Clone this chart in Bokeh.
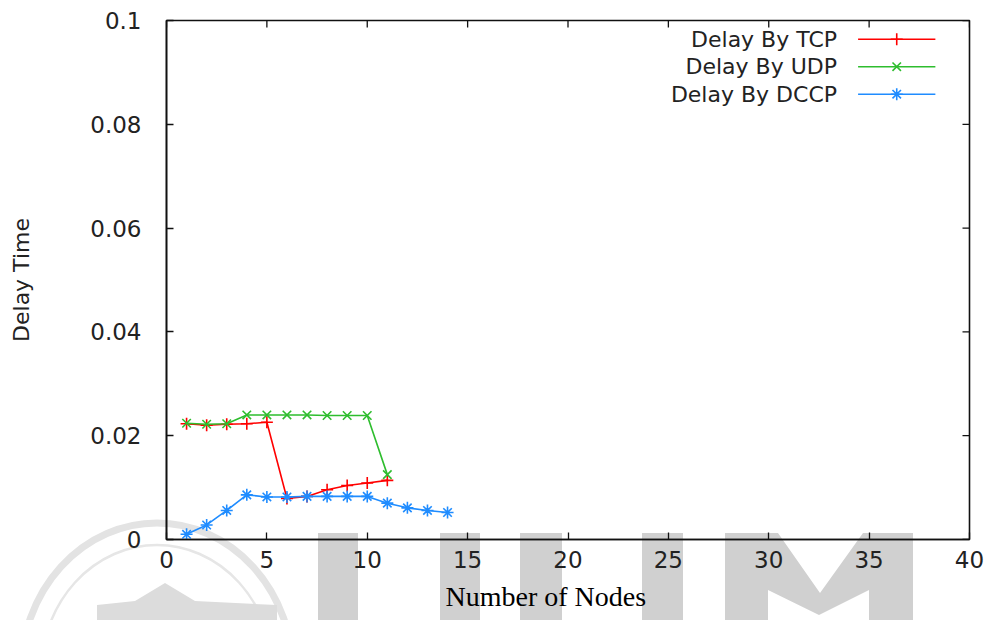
from bokeh.plotting import figure
from bokeh.layouts import column
from bokeh.models import (Range1d, FixedTicker, PrintfTickFormatter, Title,
                          ColumnDataSource, Div)
from bokeh.core.properties import value
from bokeh.embed import file_html
from bokeh.resources import INLINE

# ---- measured delays per number of nodes ----
tcp_nodes = [1, 2, 3, 4, 5, 6, 7, 8, 9, 10, 11]
tcp_delay = [0.0223, 0.0220, 0.0222, 0.0223, 0.0226, 0.0079, 0.0083, 0.0096,
             0.0104, 0.0109, 0.0114]

udp_nodes = [1, 2, 3, 4, 5, 6, 7, 8, 9, 10, 11]
udp_delay = [0.0224, 0.0222, 0.0223, 0.0240, 0.0240, 0.0240, 0.0240, 0.0239,
             0.0239, 0.0239, 0.0125]

dccp_nodes = [1, 2, 3, 4, 5, 6, 7, 8, 9, 10, 11, 12, 13, 14]
dccp_delay = [0.0010, 0.0028, 0.0056, 0.0086, 0.0082, 0.0082, 0.0083, 0.0083,
              0.0083, 0.0083, 0.0070, 0.0061, 0.0056, 0.0052]

series_names = ["Delay By TCP", "Delay By UDP", "Delay By DCCP"]
series_colors = ["#ff0000", "#2ebd2e", "#1f8cff"]
series_markers = ["cross", "x", "asterisk"]

x_ticks = [0, 5, 10, 15, 20, 25, 30, 35, 40]
y_ticks = [0, 0.02, 0.04, 0.06, 0.08, 0.1]

TICK_FONT = "DejaVu Sans"
TEXT_COLOR = "#222222"
X_MIN, X_MAX, Y_MIN, Y_MAX = 0, 40, 0, 0.1
W, H = 987, 620

# ---- page backdrop: faint university lettering and crest (pixel space) ----
letter_polys = [
    "313,528 353,528 353,640 313,640",
    "435,528 475,528 475,640 435,640",
    "515,528 557,528 557,640 515,640",
    "637,528 678,528 678,640 637,640",
    "720,528 773,528 815,588 858,528 908,528 908,640 864,640 864,585 "
    "814,610 763,585 763,640 720,640",
]
crest_building = "92,640 92,600 130,596 160,578 190,596 272,600 272,640"
svg = [f'<svg xmlns="http://www.w3.org/2000/svg" width="{W}" height="{H}">']
svg += [f'<polygon points="{pts}" fill="#d0d0d0"/>' for pts in letter_polys]
svg.append('<ellipse cx="152" cy="668" rx="136" ry="150" fill="none" '
           'stroke="#e3e3e3" stroke-width="7"/>')
svg.append('<ellipse cx="152" cy="668" rx="116" ry="128" fill="none" '
           'stroke="#e6e6e6" stroke-width="2.5"/>')
svg.append(f'<polygon points="{crest_building}" fill="#dcdcdc"/>')
svg.append('</svg>')
backdrop = Div(text="".join(svg), width=W, height=H,
               styles={"position": "absolute", "top": "0px", "left": "0px",
                       "z-index": "-1"})

# ---- main chart ----
p = figure(width=W, height=H,
           x_range=Range1d(X_MIN, X_MAX), y_range=Range1d(Y_MIN, Y_MAX),
           min_border_left=166, min_border_right=18,
           min_border_top=20, min_border_bottom=81,
           output_backend="svg", toolbar_location=None)
p.grid.visible = False
p.outline_line_color = "#111111"
p.outline_line_width = 1.6
p.background_fill_color = None
p.border_fill_color = None

for xs, ys, col, mk in zip([tcp_nodes, udp_nodes, dccp_nodes],
                           [tcp_delay, udp_delay, dccp_delay],
                           series_colors, series_markers):
    src = ColumnDataSource(dict(x=xs, y=ys))
    p.line("x", "y", source=src, line_color=col, line_width=1.6)
    p.scatter("x", "y", source=src, marker=mk, size=12,
              line_color=col, fill_color=col, line_width=1.6)

# key in the top-right corner (text, then sample line)
key_text_x = 33.4
key_line_x0, key_line_x1 = 34.45, 38.3
key_rows_y = [0.0964, 0.0911, 0.0858]
p.text(x=[key_text_x] * 3, y=key_rows_y, text=series_names,
       text_font=value(TICK_FONT), text_font_size="22px", text_color=TEXT_COLOR,
       text_align="right", text_baseline="middle")
for ky, col, mk in zip(key_rows_y, series_colors, series_markers):
    p.segment(x0=[key_line_x0], y0=[ky], x1=[key_line_x1], y1=[ky],
              line_color=col, line_width=1.6)
    p.scatter(x=[(key_line_x0 + key_line_x1) / 2], y=[ky], marker=mk, size=12,
              line_color=col, fill_color=col, line_width=1.6)

def style_axis(ax, ticks):
    ax.ticker = FixedTicker(ticks=ticks)
    ax.formatter = PrintfTickFormatter(format="%g")
    ax.axis_line_color = "#111111"
    ax.axis_line_width = 1.6
    ax.major_tick_line_color = "#111111"
    ax.major_tick_line_width = 1.3
    ax.major_tick_in = 7
    ax.major_tick_out = 0
    ax.minor_tick_line_color = None
    ax.major_label_text_font = TICK_FONT
    ax.major_label_text_font_size = "23px"
    ax.major_label_text_color = TEXT_COLOR

xa = p.xaxis[0]
ya = p.yaxis[0]
style_axis(xa, x_ticks)
style_axis(ya, y_ticks)
xa.major_label_standoff = 11
ya.major_label_standoff = 25

ya.axis_label = "Delay Time"
ya.axis_label_text_font = TICK_FONT
ya.axis_label_text_font_size = "22px"
ya.axis_label_text_font_style = "normal"
ya.axis_label_text_color = TEXT_COLOR
ya.axis_label_standoff = 53

# x title, set a little left of the frame centre
p.add_layout(Title(text="Number of Nodes", align="left", offset=279,
                   text_font="Liberation Serif", text_font_size="28px",
                   text_font_style="normal", text_color="black", standoff=16),
             "below")

# mirrored inward ticks on the top and right frame edges
tick_dy = 7 / 5185
tick_dx = 7 / 20.075
p.segment(x0=x_ticks, y0=[Y_MAX] * len(x_ticks), x1=x_ticks,
          y1=[Y_MAX - tick_dy] * len(x_ticks), line_color="#111111", line_width=1.3)
p.segment(x0=[X_MAX] * len(y_ticks), y0=y_ticks, x1=[X_MAX - tick_dx] * len(y_ticks),
          y1=y_ticks, line_color="#111111", line_width=1.3)

page = column(p, backdrop)
open("out.html", "w").write(file_html(page, INLINE))
